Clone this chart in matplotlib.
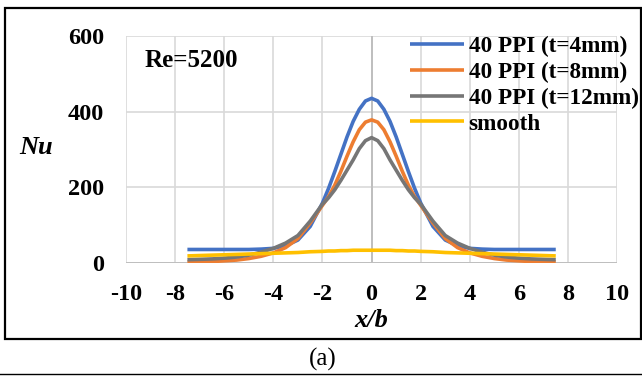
import numpy as np
import matplotlib
matplotlib.use("Agg")
import matplotlib.pyplot as plt
from matplotlib.lines import Line2D
from matplotlib.patches import Rectangle

plt.rcParams['font.family'] = ['Liberation Serif', 'DejaVu Serif']
plt.rcParams['font.weight'] = 'bold'
plt.rcParams['axes.unicode_minus'] = False

# x/b positions
x = [-7.5, -7, -6.5, -6, -5.5, -5, -4.5, -4, -3.5, -3, -2.5, -2, -1.75, -1.5, -1.25, -1, -0.75, -0.5, -0.25,
     0, 0.25, 0.5, 0.75, 1, 1.25, 1.5, 1.75, 2, 2.5, 3, 3.5, 4, 4.5, 5, 5.5, 6, 6.5, 7, 7.5]

nu_t4 = [35, 35, 35, 35, 35, 35, 36, 38, 45, 60, 96, 158, 197, 241, 287, 333, 374, 406, 428,
         435, 428, 406, 374, 333, 287, 241, 197, 158, 96, 60, 45, 38, 36, 35, 35, 35, 35, 35, 35]
nu_t8 = [2, 2, 3, 5, 7, 11, 17, 26, 40, 64, 105, 152, 175, 205, 242, 282, 320, 352, 372,
         378, 372, 352, 320, 282, 242, 205, 175, 152, 105, 64, 40, 26, 17, 11, 7, 5, 3, 2, 2]
nu_t12 = [8, 9, 10, 12, 15, 20, 28, 38, 52, 72, 110, 155, 172, 193, 218, 245, 272, 302, 323,
          331, 323, 302, 272, 245, 218, 193, 172, 155, 110, 72, 52, 38, 28, 20, 15, 12, 10, 9, 8]
nu_smooth = [18, 19, 20, 21, 22, 23, 24, 25, 26, 27, 29, 30, 31, 31, 32, 32, 33, 33, 33,
             33, 33, 33, 33, 32, 32, 31, 31, 30, 29, 27, 26, 25, 24, 23, 22, 21, 20, 19, 18]

labels = ['40 PPI (t=4mm)', '40 PPI (t=8mm)', '40 PPI (t=12mm)', 'smooth']
colors = ['#4472C4', '#ED7D31', '#767676', '#FFC000']

xticks = [-10, -8, -6, -4, -2, 0, 2, 4, 6, 8, 10]
yticks = [0, 200, 400, 600]

fig = plt.figure(figsize=(6.42, 3.76), dpi=100)
ax = fig.add_axes([0.1963, 0.3013, 0.765, 0.603])

for ys, lab, c in zip([nu_t4, nu_t8, nu_t12, nu_smooth], labels, colors):
    ax.plot(x, ys, color=c, lw=2.6, label=lab, solid_capstyle='butt', zorder=3)

ax.set_xlim(-10, 10)
ax.set_ylim(0, 600)
ax.set_xticks(xticks)
ax.set_yticks(yticks)
ax.set_xticklabels([str(t) for t in xticks])
ax.grid(True, color='#D9D9D9', lw=1.2)
ax.set_axisbelow(True)
for s in ax.spines.values():
    s.set_visible(False)
ax.axhline(0, color='#BFBFBF', lw=1.4, zorder=2)
ax.axvline(0, color='#BFBFBF', lw=1.4, zorder=2)
ax.tick_params(length=0, labelsize=17.5)
ax.tick_params(axis='x', pad=15)
ax.tick_params(axis='y', pad=16)

ax.set_ylabel('Nu', fontsize=19, style='italic', fontweight='bold', rotation=0)
ax.yaxis.set_label_coords(-0.183, 0.506)
ax.set_xlabel('x/b', fontsize=19, style='italic', fontweight='bold')
ax.xaxis.set_label_coords(0.5, -0.253)
ax.yaxis.label.set_va('center')
ax.xaxis.label.set_va('center')

ax.text(-9.25, 536, 'Re=5200', fontsize=18, ha='left', va='center')

ax.legend(loc='upper left', bbox_to_anchor=(0.638, 0.905), bbox_transform=fig.transFigure,
          frameon=False, prop={'size': 16.7, 'weight': 'bold'}, handlelength=2.35, handletextpad=0.2,
          labelspacing=0.2, borderpad=0, borderaxespad=0)

fig.add_artist(Rectangle((0.0078, 0.0984), 0.99, 0.880, transform=fig.transFigure,
                         fill=False, edgecolor='black', lw=1.6))
fig.add_artist(Line2D([0, 1], [0.004, 0.004], transform=fig.transFigure, color='black', lw=1))
fig.text(0.502, 0.043, '(a)', fontsize=18, fontweight='normal', ha='center', va='center')

fig.savefig('out.png', dpi=100)
